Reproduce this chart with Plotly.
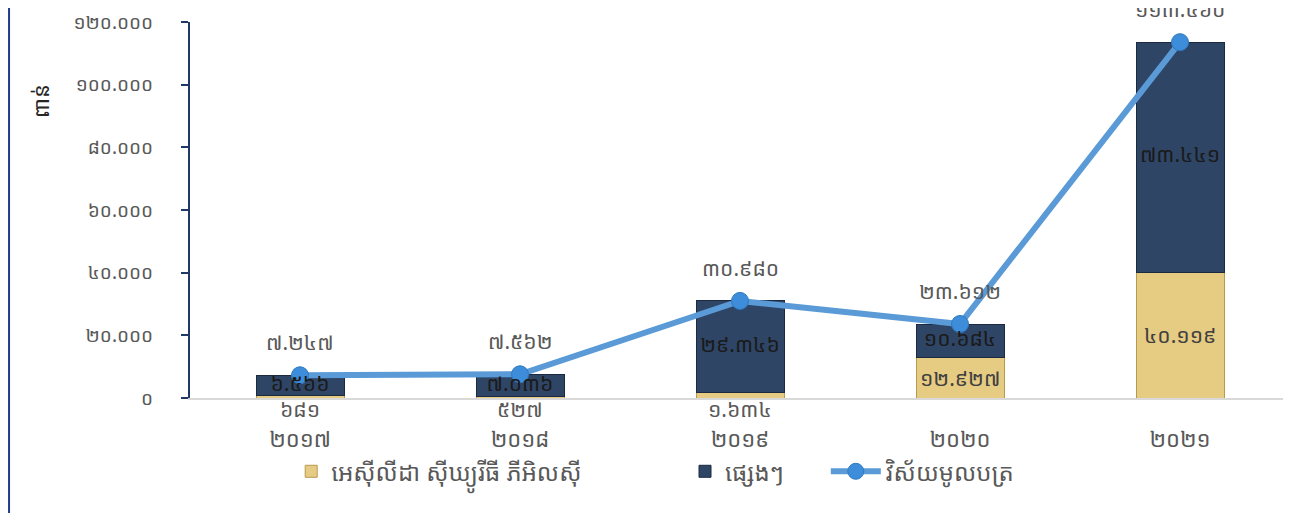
import plotly.graph_objects as go

# data (values in thousands)
years = ["២០១៧", "២០១៨", "២០១៩", "២០២០", "២០២១"]
acleda = [681, 527, 1634, 12927, 40119]
others = [6566, 7036, 29346, 10684, 73441]
sector = [7247, 7562, 30980, 23612, 113560]

ytick_vals = [0, 20000, 40000, 60000, 80000, 100000, 120000]
ytick_text = ["០", "២០.០០០", "៤០.០០០", "៦០.០០០", "៨០.០០០", "១០០.០០០", "១២០.០០០"]

names = ["អេស៊ីលីដា ស៊ីឃ្យូរីធី ភីអិលស៊ី", "ផ្សេងៗ", "វិស័យមូលបត្រ"]
y_title = "ពាន់"

KH = str.maketrans("0123456789", "០១២៣៤៥៦៧៨៩")


def kh(n):
    return f"{n:,}".replace(",", ".").translate(KH)


FONT = "Noto Sans Khmer, Khmer OS, DejaVu Sans, sans-serif"
GREY = "#595959"
LBL = 21

fig = go.Figure()

fig.add_trace(go.Bar(x=years, y=acleda, name=names[0], legend="legend",
                     marker=dict(color="#E6CB82", line=dict(color="#B89A4E", width=1))))
fig.add_trace(go.Bar(x=years, y=others, name=names[1], legend="legend2",
                     marker=dict(color="#2F4566", line=dict(color="#1B2A40", width=1))))
fig.add_trace(go.Scatter(x=years, y=sector, name=names[2], mode="lines+markers", legend="legend3",
                         line=dict(color="#5A9AD6", width=6),
                         marker=dict(color="#3D8DDB", size=17, line=dict(color="#2F7AC0", width=1))))

# labels for the dark segments (centre of segment)
fig.add_trace(go.Scatter(x=years, y=[a + o / 2 for a, o in zip(acleda, others)],
                         mode="text", text=[kh(v) for v in others], showlegend=False,
                         textfont=dict(family=FONT, size=LBL, color="#1A1A1A"),
                         hoverinfo="skip", cliponaxis=False))

# labels for the yellow segments: inside when big, below the axis when small
for x, v in zip(years, acleda):
    if v > 5000:
        fig.add_annotation(x=x, y=v / 2, text=kh(v), showarrow=False,
                           font=dict(family=FONT, size=LBL, color="#404040"))
    else:
        fig.add_annotation(x=x, y=0, text=kh(v), showarrow=False, yshift=-11,
                           font=dict(family=FONT, size=LBL, color=GREY))

# labels for the line
for x, v in zip(years, sector):
    fig.add_annotation(x=x, y=v, text=kh(v), showarrow=False, yshift=33,
                       font=dict(family=FONT, size=LBL, color=GREY))

# axis title near the top of the y axis
fig.add_annotation(xref="paper", yref="paper", x=-0.136, y=0.79, text=y_title,
                   textangle=-90, showarrow=False, xanchor="center", yanchor="middle",
                   font=dict(family=FONT, size=22, color="#262626"))

# left border of the chart area
fig.add_shape(type="line", xref="paper", yref="paper", x0=-0.1645, x1=-0.1645,
              y0=-0.32, y1=1.06, line=dict(color="#1F3C88", width=2))

leg = dict(orientation="h", y=-0.196, yanchor="middle", xanchor="left",
           font=dict(family=FONT, size=24, color=GREY), bgcolor="rgba(0,0,0,0)")

fig.update_layout(
    width=1283, height=505,
    margin=dict(l=182, r=1, t=12, b=115),
    barmode="stack", bargap=0.6,
    plot_bgcolor="white", paper_bgcolor="white",
    font=dict(family=FONT, color=GREY, size=16),
    legend=dict(leg, x=0.092),
    legend2=dict(leg, x=0.45),
    legend3=dict(leg, x=0.578, itemwidth=50),
    xaxis=dict(showline=True, linecolor="#D9D9D9", linewidth=2, showgrid=False,
               ticks="", ticklabelstandoff=21, tickfont=dict(family=FONT, size=22, color=GREY)),
    yaxis=dict(range=[0, 120000], tickvals=ytick_vals, ticktext=ytick_text,
               showline=True, linecolor="#1F3864", linewidth=2, showgrid=False,
               ticks="outside", ticklen=7, tickcolor="#1F3864", tickwidth=2,
               ticklabelstandoff=24, zeroline=False, ticklabeloverflow="allow",
               tickfont=dict(family=FONT, size=19, color=GREY)),
)

fig.write_html("out.html")
